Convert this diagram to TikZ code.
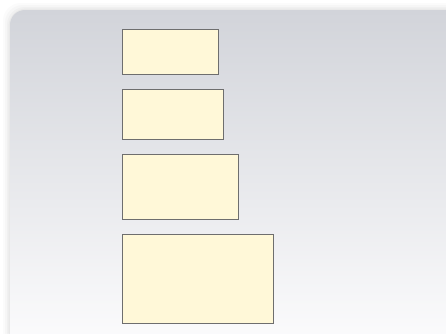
\documentclass[tikz,border=0pt]{standalone}
\usepackage{tikz}
\usetikzlibrary{positioning}
\definecolor{PanelTop}{HTML}{D2D4DA}
\definecolor{PanelLow}{HTML}{FCFCFD}
\definecolor{Cream}{HTML}{FFF8D8}
\definecolor{Rim}{HTML}{6E6E6E}
\definecolor{Haze}{HTML}{B8B8BC}
\begin{document}
\begin{tikzpicture}[x=1pt, y=-1pt,
    slot/.style={draw=Rim, line width=1pt, fill=Cream, anchor=north west, inner sep=0pt}]
    \useasboundingbox (0,0) rectangle (446,333);
    \clip (0,0) rectangle (446,333);
    \fill[white] (0,0) rectangle (446,333);
    % soft shadow round the panel
    \foreach \s/\o in {7/0.05,5/0.07,3/0.09,1.5/0.12}
      \fill[Haze, opacity=\o, rounded corners=18pt] (10-\s,10-\s) rectangle (460+\s,347+\s);
    \shade[top color=PanelTop, bottom color=PanelLow, rounded corners=15pt] (10,10) rectangle (460,347);
    \node[slot, minimum width=96pt, minimum height=45pt] (rowa) at (122,29) {};
    \node[slot, minimum width=101pt, minimum height=50pt] (rowb) at (122,89) {};
    \node[slot, minimum width=116pt, minimum height=65pt] (rowc) at (122,154) {};
    \node[slot, minimum width=151pt, minimum height=89pt] (rowd) at (122,234) {};
  \end{tikzpicture}
\end{document}
